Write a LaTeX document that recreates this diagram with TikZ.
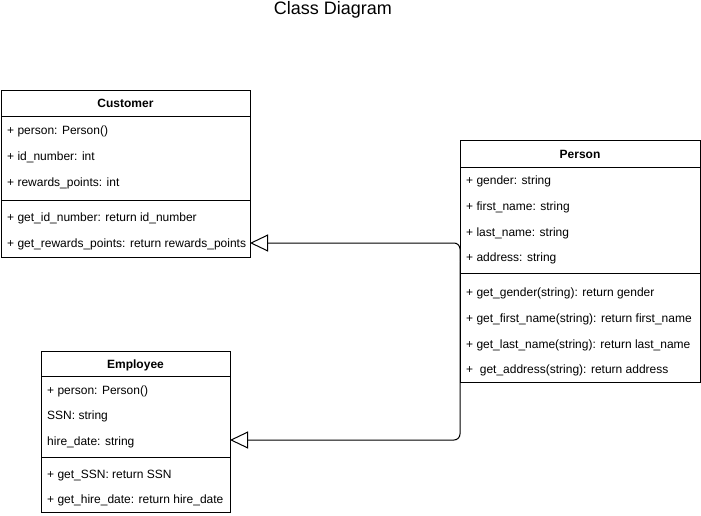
\documentclass[tikz,border=0pt]{standalone}
\usepackage{fontspec}
\setmainfont{Liberation Sans}
\usetikzlibrary{arrows.meta}
\tikzset{
  box/.style={draw, line width=1pt, anchor=north west, inner sep=0pt, fill=white},
  row/.style={anchor=base west, yshift=-4.3pt, inner sep=0pt, font=\fontsize{12}{14}\selectfont},
  hdr/.style={anchor=base, yshift=-4.3pt, inner sep=0pt, font=\bfseries\fontsize{12}{14}\selectfont},
  sepline/.style={line width=1pt},
  inh/.style={line width=1pt, rounded corners=6pt, -{Triangle[open,length=18pt,width=17pt]}}
}
\begin{document}
\begin{tikzpicture}[x=1pt,y=-1pt]
\useasboundingbox (0,0) rectangle (701,516);
\node[anchor=center, inner sep=0pt, font=\fontsize{18}{20}\selectfont] (title) at (333,10) {Class Diagram};

% Customer
\node[box, minimum width=249pt, minimum height=167pt] (C) at (1,90) {};
\node[hdr] (Ch) at (125.5,103.5) {Customer};
\draw[sepline] (1,116.5) -- (250,116.5);
\node[row] (C1) at (7,130) {+ person: Person()};
\node[row] (C2) at (7,156) {+ id\_number: int};
\node[row] (C3) at (7,182) {+ rewards\_points: int};
\draw[sepline] (1,200.5) -- (250,200.5);
\node[row] (C4) at (7,217) {+ get\_id\_number: return id\_number};
\node[row] (C5) at (7,243) {+ get\_rewards\_points: return rewards\_points};

% Person
\node[box, minimum width=240pt, minimum height=242pt] (P) at (460,140) {};
\node[hdr] (Ph) at (580,154) {Person};
\draw[sepline] (460,167) -- (700,167);
\node[row] (P1) at (466,180) {+ gender: string};
\node[row] (P2) at (466,206) {+ first\_name: string};
\node[row] (P3) at (466,232) {+ last\_name: string};
\node[row] (P4) at (466,257) {+ address: string};
\draw[sepline] (460,273.5) -- (700,273.5);
\node[row] (P5) at (466,292) {+ get\_gender(string): return gender};
\node[row] (P6) at (466,318) {+ get\_first\_name(string): return first\_name};
\node[row] (P7) at (466,344) {+ get\_last\_name(string): return last\_name};
\node[row] (P8) at (466,369) {+\ \ get\_address(string): return address};

% Employee
\node[box, minimum width=189pt, minimum height=161pt] (E) at (41,351) {};
\node[hdr] (Eh) at (135.5,364) {Employee};
\draw[sepline] (41,376.5) -- (230,376.5);
\node[row] (E1) at (47,390) {+ person: Person()};
\node[row] (E2) at (47,415) {SSN: string};
\node[row] (E3) at (47,441) {hire\_date: string};
\draw[sepline] (41,457) -- (230,457);
\node[row] (E4) at (47,474) {+ get\_SSN: return SSN};
\node[row] (E5) at (47,499) {+ get\_hire\_date: return hire\_date};

% Inheritance connectors
\coordinate (cT) at (250,243);
\coordinate (eT) at (230,440);
\draw[inh] (P.west) |- (cT);
\draw[inh] (P.west) |- (eT);
\end{tikzpicture}
\end{document}
